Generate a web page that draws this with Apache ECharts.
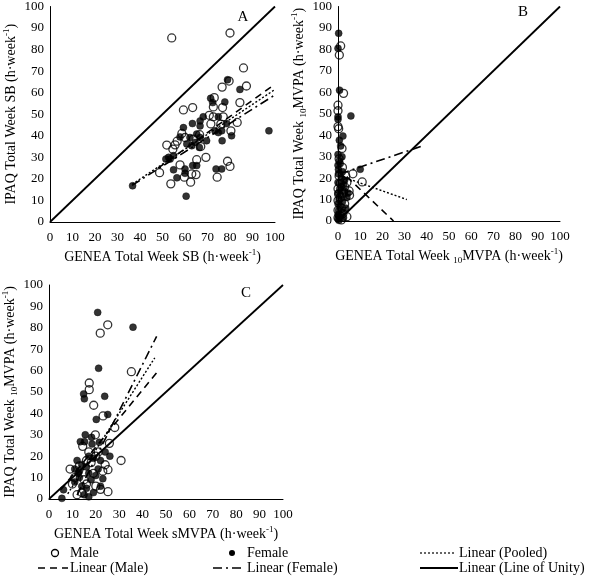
<!DOCTYPE html>
<html>
<head>
<meta charset="utf-8">
<script src="https://cdn.jsdelivr.net/npm/echarts@6/dist/echarts.min.js"></script>
<style>html,body{margin:0;padding:0;background:#fff;}#c{width:615px;height:576px;}</style>
</head>
<body>
<div id="c"></div>
<script>
// ---------- Data ----------
const tickValues = [0,10,20,30,40,50,60,70,80,90,100];

// Panel A (SB)
const maleA = [[54.1,85.4],[80,87.7],[86,71.5],[87.3,63.1],[76.5,62.6],[79.6,65.4],[73,57.7],[76.7,53.1],[72.6,53.4],[59.3,52],[63.4,53.1],[84.4,55.4],[77,48.8],[72.6,48.8],[75.9,45.4],[83.2,46.2],[80.4,42.3],[55.6,35.8],[51.9,35.7],[54.6,33.8],[60,39.2],[58.6,41.1],[69.3,30],[65.2,28.9],[57.8,26.5],[48.7,22.9],[53.7,17.7],[59.7,20.8],[63,22.3],[64.9,22],[62.5,18.5],[74.3,20.8],[78.9,28.2],[80,25.8],[67,35],[63.7,38.5],[70.8,49.5],[71.5,45.5],[56.5,37.5],[66.5,40.5]];
const femaleA = [[36.7,16.8],[60.5,12],[97.3,42.3],[84.4,61.5],[78.9,66],[71.4,57.4],[72.3,55.4],[77.7,55.7],[59.3,43.8],[57.8,39.5],[63.3,45.7],[66.7,46.9],[68.1,48.8],[74.8,48.8],[78.5,45.7],[73.3,42.3],[76.3,42.3],[74.8,41.5],[80.7,40],[65.2,40.8],[66.7,39.2],[69.6,37.7],[64.5,36.9],[63,35.4],[66.4,34.6],[60.8,36.2],[54.9,30.8],[52.7,30],[51.5,29.2],[53.4,29.2],[54.9,24.2],[60,24.6],[63.4,26.2],[56.4,20.5],[60,22.6],[73.8,24.6],[76.3,24.6],[76.5,37.7],[65.2,26.2],[62.2,39.2],[66.7,44.6]];
const maleLineA = [[48,25],[100,64]];
const pooledLineA = [[36.5,17.5],[100,61.5]];
const femaleLineA = [[36.5,17],[100,59]];

// Panel B (10MVPA)
const maleB = [[1.2,81.6],[0.6,77.4],[2.5,59.5],[0,54],[0,51.4],[0,44],[1.8,33.8],[6.7,22],[10.9,18.2],[5.2,12],[0.3,43],[0.5,21],[2,19],[1,17.5],[3,16],[0,15],[4,18],[2.5,13],[1,11],[0,9.5],[3,8],[1.5,6],[0,5],[2.2,3.5],[0.8,2.5],[4,2],[0,1.5],[1.5,0.5],[3.5,21],[0.3,12.5],[5,14],[2,25],[0.5,29]];
const femaleB = [[0.3,87.5],[0,80.5],[0.7,61],[5.8,49],[0,48.6],[0,47.4],[2.2,39.6],[0.6,37.7],[1.8,30],[1,26.8],[10,24.1],[0,26],[0.5,28],[0.2,22],[1.5,20],[0,18],[2.5,17],[0.8,15],[3,14],[0,13],[1.2,12],[4,11],[0.5,10],[2,9],[0,8],[1,7],[3.5,6],[0.3,5],[1.8,4],[0,3],[0.7,2],[2.5,1.5],[0,1],[0.4,0.3],[1.5,16],[3,19],[0.2,24],[4.5,13],[2,23],[0,31],[1.2,35]];
const maleLineB = [[0,24.5],[25,0]];
const pooledLineB = [[0,21.4],[31,10]];
const femaleLineB = [[1,22],[38,35]];

// Panel C (sMVPA)
const maleC = [[25.1,81.4],[21.9,77.5],[35.2,59.5],[17.2,54.2],[17.2,51.1],[19.1,43.8],[23.1,38.8],[28.1,33.4],[19.8,30],[14.4,24.6],[25.8,26],[30.8,18],[25.2,13.7],[25.2,3.4],[9,14],[11,10],[13,15.5],[12,2],[14,3],[16,7],[18,17],[20,6],[21,22],[23,13],[17,22],[19,12],[22,4.5],[15,9],[10,7],[16,18],[24,16],[20,20]];
const femaleC = [[20.8,87.2],[35.9,80.3],[21.2,61.1],[14.8,49.1],[15.1,46.8],[23.8,48],[25.1,39.5],[20.2,37.2],[15.5,30],[13.4,26.8],[15.2,26.8],[18.2,28.8],[18.4,25.7],[21.5,26.5],[5.5,0.3],[6.2,4.3],[12,18],[14,16],[16,15],[17,20],[19,19],[22,18],[24,22],[26,20],[11,8],[13,10],[14,6],[16,5],[17,12],[18,9],[20,11],[21,14],[23,9.5],[15,2],[17,1],[13,13],[19,3],[22,6],[11,14],[12.5,12]];
const maleLineC = [[5,4.3],[46,59]];
const pooledLineC = [[8,2.4],[45.2,66]];
const femaleLineC = [[12,1.8],[46,76]];

const unityLine = [[0,0],[100,100]];

const titles = {
  xA: 'GENEA Total Week SB (h·week{sup|-1})',
  yA: 'IPAQ Total Week SB (h·week{sup|-1})',
  xB: 'GENEA Total Week {sub|10}MVPA (h·week{sup|-1})',
  yB: 'IPAQ Total Week {sub|10}MVPA (h·week{sup|-1})',
  xC: 'GENEA Total Week sMVPA (h·week{sup|-1})',
  yC: 'IPAQ Total Week {sub|10}MVPA (h·week{sup|-1})'
};
const panelLabels = ['A','B','C'];
const legendNames = ['Male','Female','Linear (Pooled)','Linear (Male)','Linear (Female)','Linear (Line of Unity)'];

// ---------- Styles ----------
const FONT = 'Liberation Serif';
const richStyle = {
  sup: {fontSize: 9, verticalAlign: 'top', lineHeight: 18, fontFamily: FONT, color: '#000'},
  sub: {fontSize: 9, verticalAlign: 'bottom', lineHeight: 18, fontFamily: FONT, color: '#000'}
};
const DASH = [7,5];
const DASHDOT = [9,4,2,4];
const DOT = [2,2];

function axis(idx, name, isX, gap) {
  return {
    type: 'value', gridIndex: idx, min: 0, max: 100, interval: 10,
    name: name, nameLocation: 'middle', nameGap: gap,
    nameTextStyle: {fontFamily: FONT, fontSize: 14, color: '#000', lineHeight: 18, rich: richStyle},
    axisLine: {show: true, onZero: false, lineStyle: {color: '#000', width: 1}},
    axisTick: {show: false},
    splitLine: {show: false},
    axisLabel: {fontFamily: FONT, fontSize: 13, color: '#000', margin: isX ? 9 : 6,
      formatter: v => tickValues.indexOf(v) >= 0 ? String(v) : ''}
  };
}

function scatter(idx, data, filled) {
  return {
    type: 'scatter', xAxisIndex: idx, yAxisIndex: idx, data: data,
    symbol: 'circle', symbolSize: filled ? 7 : 8,
    itemStyle: filled ? {color: '#000', borderColor: '#000', borderWidth: 0.5}
                      : {color: 'rgba(255,255,255,0)', borderColor: '#000', borderWidth: 1.3},
    z: 2, silent: true
  };
}
function line(idx, data, type, w) {
  return {
    type: 'line', xAxisIndex: idx, yAxisIndex: idx, data: data,
    showSymbol: false, symbol: 'none',
    lineStyle: {color: '#000', width: w || 1.6, type: type},
    z: 3, silent: true
  };
}

const grids = [
  {left: 50, top: 6, width: 225, height: 216},
  {left: 338, top: 6, width: 222, height: 215},
  {left: 49, top: 285, width: 234, height: 214}
];

const series = [
  scatter(0, maleA, false), scatter(0, femaleA, true),
  line(0, unityLine, 'solid', 1.8), line(0, maleLineA, DASH), line(0, femaleLineA, DASHDOT), line(0, pooledLineA, DOT, 1.4),
  scatter(1, maleB, false), scatter(1, femaleB, true),
  line(1, unityLine, 'solid', 1.8), line(1, maleLineB, DASH), line(1, femaleLineB, DASHDOT), line(1, pooledLineB, DOT, 1.4),
  scatter(2, maleC, false), scatter(2, femaleC, true),
  line(2, unityLine, 'solid', 1.8), line(2, maleLineC, DASH), line(2, femaleLineC, DASHDOT), line(2, pooledLineC, DOT, 1.4)
];

const txt = (x, y, s, size, align) => ({type: 'text', left: x, top: y,
  style: {text: s, font: (size||14) + 'px "' + FONT + '"', fill: '#000', textAlign: align || 'left', textVerticalAlign: 'middle'}});
const seg = (x1, x2, y, dash, w) => ({type: 'line', shape: {x1: x1, y1: y, x2: x2, y2: y},
  style: {stroke: '#000', lineWidth: w || 1.6, lineDash: dash}});

const graphic = [
  {type: 'text', x: 243, y: 17, style: {text: panelLabels[0], font: '15px "' + FONT + '"', fill: '#000', textAlign: 'center', textVerticalAlign: 'middle'}},
  {type: 'text', x: 523, y: 12, style: {text: panelLabels[1], font: '15px "' + FONT + '"', fill: '#000', textAlign: 'center', textVerticalAlign: 'middle'}},
  {type: 'text', x: 246, y: 293, style: {text: panelLabels[2], font: '15px "' + FONT + '"', fill: '#000', textAlign: 'center', textVerticalAlign: 'middle'}},
  // legend row 1
  {type: 'circle', shape: {cx: 55, cy: 553, r: 3.5}, style: {fill: 'none', stroke: '#000', lineWidth: 1.3}},
  {type: 'text', x: 70, y: 553, style: {text: legendNames[0], font: '14px "' + FONT + '"', fill: '#000', textVerticalAlign: 'middle'}},
  {type: 'circle', shape: {cx: 232, cy: 553, r: 3}, style: {fill: '#000'}},
  {type: 'text', x: 247, y: 553, style: {text: legendNames[1], font: '14px "' + FONT + '"', fill: '#000', textVerticalAlign: 'middle'}},
  {type: 'line', shape: {x1: 420, y1: 553, x2: 456, y2: 553}, style: {stroke: '#000', lineWidth: 1.2, lineDash: DOT}},
  {type: 'text', x: 459, y: 553, style: {text: legendNames[2], font: '14px "' + FONT + '"', fill: '#000', textVerticalAlign: 'middle'}},
  // legend row 2
  {type: 'line', shape: {x1: 38, y1: 568, x2: 68, y2: 568}, style: {stroke: '#000', lineWidth: 1.6, lineDash: DASH}},
  {type: 'text', x: 70, y: 568, style: {text: legendNames[3], font: '14px "' + FONT + '"', fill: '#000', textVerticalAlign: 'middle'}},
  {type: 'line', shape: {x1: 213, y1: 568, x2: 243, y2: 568}, style: {stroke: '#000', lineWidth: 1.6, lineDash: DASHDOT}},
  {type: 'text', x: 247, y: 568, style: {text: legendNames[4], font: '14px "' + FONT + '"', fill: '#000', textVerticalAlign: 'middle'}},
  {type: 'line', shape: {x1: 420, y1: 568, x2: 458, y2: 568}, style: {stroke: '#000', lineWidth: 1.8}},
  {type: 'text', x: 459, y: 568, style: {text: legendNames[5], font: '14px "' + FONT + '"', fill: '#000', textVerticalAlign: 'middle'}}
];

const chart = echarts.init(document.getElementById('c'), null, {renderer: 'canvas'});
chart.setOption({
  animation: false,
  backgroundColor: '#fff',
  grid: grids,
  xAxis: [axis(0, titles.xA, true, 26), axis(1, titles.xB, true, 26), axis(2, titles.xC, true, 26)],
  yAxis: [axis(0, titles.yA, false, 30), axis(1, titles.yB, false, 27), axis(2, titles.yC, false, 30)],
  series: series,
  graphic: graphic
});
</script>
</body>
</html>
